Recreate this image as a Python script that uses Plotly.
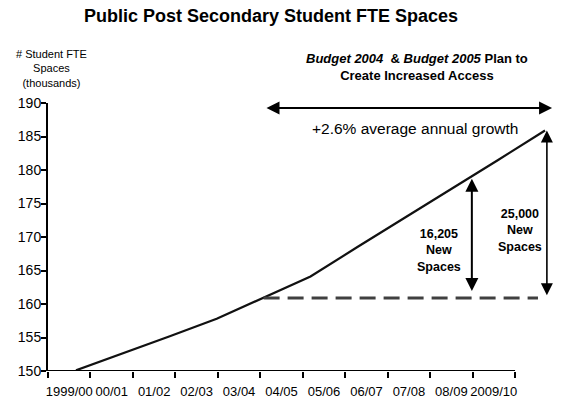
import plotly.graph_objects as go

# ---- data ----
categories = ["1999/00", "00/01", "01/02", "02/03", "03/04", "04/05",
              "05/06", "06/07", "07/08", "08/09", "2009/10"]
fte_thousands = [150.1, 152.6, 155.2, 157.8, 160.9, 164.1,
                 168.5, 172.8, 177.1, 181.5, 185.9]
y_ticks = [150, 155, 160, 165, 170, 175, 180, 185, 190]
base_index = 4            # 03/04 level used as the baseline
new_spaces_mid = "16,205"
new_spaces_end = "25,000"

FONT = "Liberation Sans, Arial, sans-serif"
idx = list(range(len(categories)))
base = fte_thousands[base_index]

fig = go.Figure()

# invisible trace that carries the category axis
fig.add_trace(go.Scatter(x=categories, y=[y_ticks[0]] * len(categories),
                         mode="markers", marker=dict(opacity=0),
                         hoverinfo="skip", showlegend=False, xaxis="x", yaxis="y"))

# main growth line
fig.add_trace(go.Scatter(x=idx, y=fte_thousands, mode="lines",
                         line=dict(color="#111111", width=2.2),
                         hoverinfo="skip", showlegend=False, xaxis="x2", yaxis="y"))

# dashed baseline at the 03/04 level
fig.add_trace(go.Scatter(x=[base_index, 9.85], y=[base, base], mode="lines",
                         line=dict(color="#404040", width=3, dash="16px,8px"),
                         hoverinfo="skip", showlegend=False, xaxis="x2", yaxis="y"))

ann = []
# y-axis title
ann.append(dict(xref="paper", yref="paper", x=0.006, y=1.127,
                text="# Student FTE<br>Spaces<br>(thousands)", showarrow=False,
                font=dict(family=FONT, size=11, color="black"),
                xanchor="center", yanchor="middle", align="center"))
# plan heading
ann.append(dict(xref="paper", yref="paper", x=0.732, y=1.136,
                text="<b><i>Budget 2004</i>&nbsp; & <i>Budget 2005</i> Plan to<br>Create Increased Access</b>",
                showarrow=False, font=dict(family=FONT, size=13, color="black"),
                xanchor="center", yanchor="middle", align="center"))
# growth text
ann.append(dict(xref="paper", yref="paper", x=0.728, y=0.903,
                text="+2.6% average annual growth", showarrow=False,
                font=dict(family=FONT, size=15.5, color="black"),
                xanchor="center", yanchor="middle"))
# horizontal double arrow
ann.append(dict(xref="x2", yref="y", x=10.15, y=189.25,
                axref="x2", ayref="y", ax=4.03, ay=189.25, text="",
                showarrow=True, arrowhead=2, startarrowhead=2, arrowside="end+start",
                arrowwidth=2, arrowsize=1.3, startarrowsize=1.3, arrowcolor="black",
                standoff=0, startstandoff=0))
# 16,205 arrow
ann.append(dict(xref="x2", yref="y", x=8.44, y=178.7,
                axref="x2", ayref="y", ax=8.44, ay=base + 0.8, text="",
                showarrow=True, arrowhead=2, startarrowhead=2, arrowside="end+start",
                arrowwidth=2, arrowsize=1.3, startarrowsize=1.3, arrowcolor="black",
                standoff=0, startstandoff=0))
# 25,000 arrow
ann.append(dict(xref="x2", yref="y", x=10.04, y=fte_thousands[-1],
                axref="x2", ayref="y", ax=10.04, ay=base + 0.2, text="",
                showarrow=True, arrowhead=2, startarrowhead=2, arrowside="end+start",
                arrowwidth=1.6, arrowsize=1.5, startarrowsize=1.5, arrowcolor="black",
                standoff=0, startstandoff=0))
# labels
ann.append(dict(xref="x2", yref="y", x=7.74, y=168.06,
                text="<b>" + new_spaces_mid + "<br>New<br>Spaces</b>", showarrow=False,
                font=dict(family=FONT, size=12.5, color="black"),
                xanchor="center", yanchor="middle", align="center"))
ann.append(dict(xref="x2", yref="y", x=9.47, y=170.9,
                text="<b>" + new_spaces_end + "<br>New<br>Spaces</b>", showarrow=False,
                font=dict(family=FONT, size=12.5, color="black"),
                xanchor="center", yanchor="middle", align="center"))

fig.update_layout(
    width=575, height=400,
    margin=dict(l=48, r=23, t=103, b=29),
    paper_bgcolor="white", plot_bgcolor="white",
    font=dict(family=FONT, color="black"),
    title=dict(text="<b>Public Post Secondary Student FTE Spaces</b>",
               x=271 / 575, xref="container", xanchor="center",
               y=1 - 16 / 400, yref="container", yanchor="middle",
               font=dict(family=FONT, size=18, color="black")),
    xaxis=dict(type="category", categoryorder="array", categoryarray=categories,
               tickson="boundaries", range=[-0.5, 11.37], tickangle=0,
               automargin=False, ticklabelstandoff=11,
               showline=False, showgrid=False, zeroline=False,
               ticks="outside", ticklen=6, tickwidth=2, tickcolor="black",
               tickfont=dict(family=FONT, size=13, color="black")),
    xaxis2=dict(overlaying="x", anchor="y", visible=False,
                range=[-0.597, 10.149], showgrid=False, zeroline=False),
    yaxis=dict(range=[150, 190], tickvals=y_ticks, showgrid=False, zeroline=False,
               automargin=False, ticklabelstandoff=-3,
               showline=True, linecolor="black", linewidth=2,
               ticks="outside", ticklen=5, tickwidth=2, tickcolor="black",
               tickfont=dict(family=FONT, size=14, color="black")),
    annotations=ann,
    shapes=[dict(type="line", xref="x", yref="y", x0=-0.5, x1=10.5,
                 y0=y_ticks[0], y1=y_ticks[0], line=dict(color="black", width=2))],
    showlegend=False,
)

fig.write_html("out.html", config={"displayModeBar": False},
               post_script="document.body.style.margin='0';")
